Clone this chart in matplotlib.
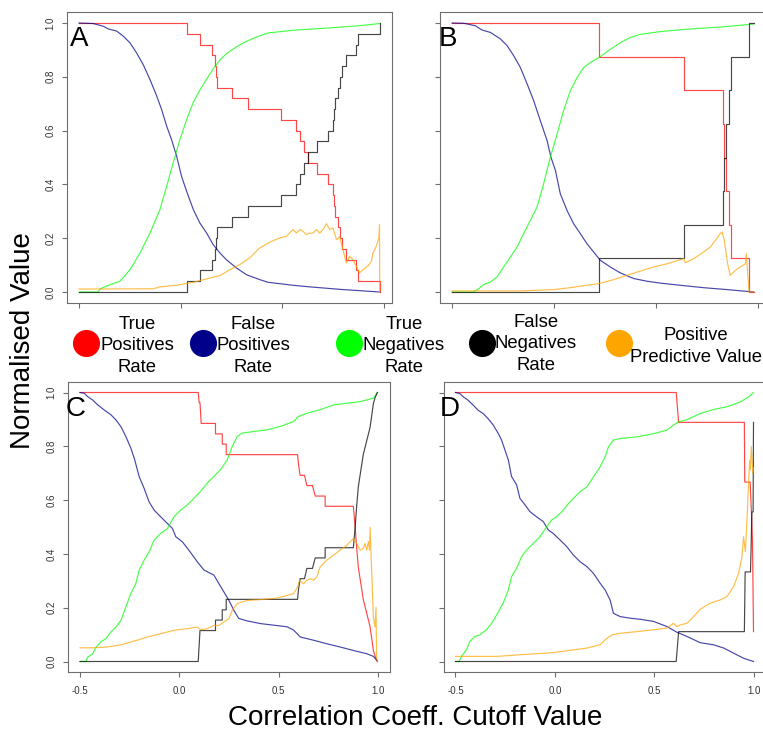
import matplotlib
matplotlib.use("Agg")
import matplotlib.pyplot as plt
from matplotlib.lines import Line2D

plt.rcParams['font.family'] = ['Liberation Sans', 'DejaVu Sans']

W, H = 763, 731

# ---------------- Panel A ----------------
# step curves: value holds from each cutoff until the next one
a_tpr_x = [-0.5, 0.032, 0.094, 0.152, 0.168, 0.173, 0.180, 0.250, 0.329, 0.491, 0.565, 0.585, 0.605,
           0.625, 0.672, 0.726, 0.747, 0.753, 0.757, 0.772, 0.782, 0.795, 0.815, 0.861, 0.874, 0.979]
a_tpr_y = [1.00, 0.96, 0.92, 0.88, 0.84, 0.80, 0.76, 0.72, 0.68, 0.64, 0.60, 0.56, 0.52,
           0.48, 0.44, 0.40, 0.36, 0.32, 0.28, 0.24, 0.20, 0.16, 0.12, 0.08, 0.04, 0.00]
a_fnr_y = [0.00, 0.04, 0.08, 0.12, 0.16, 0.20, 0.24, 0.28, 0.32, 0.36, 0.40, 0.44, 0.48,
           0.52, 0.56, 0.60, 0.64, 0.68, 0.72, 0.76, 0.80, 0.84, 0.88, 0.92, 0.96, 1.00]
a_fpr_x = [-0.5, -0.430, -0.381, -0.356, -0.315, -0.282, -0.249, -0.217, -0.184, -0.151, -0.118, -0.094,
           -0.069, -0.045, -0.020, 0.004, 0.029, 0.062, 0.094, 0.127, 0.160, 0.193, 0.225, 0.275, 0.324,
           0.389, 0.430, 0.487, 0.553, 0.635, 0.717, 0.798, 0.880, 0.979]
a_fpr_y = [1.0, 0.998, 0.988, 0.978, 0.970, 0.951, 0.926, 0.889, 0.845, 0.790, 0.729, 0.679,
           0.617, 0.567, 0.505, 0.431, 0.375, 0.307, 0.257, 0.220, 0.176, 0.145, 0.120, 0.089, 0.064,
           0.046, 0.036, 0.031, 0.025, 0.019, 0.014, 0.009, 0.005, 0.0]
a_tnr_x = [-0.5, -0.405, -0.397, -0.348, -0.299, -0.249, -0.200, -0.151, -0.102, -0.069, -0.037, -0.004,
           0.029, 0.062, 0.094, 0.127, 0.160, 0.193, 0.225, 0.275, 0.324, 0.389, 0.430, 0.553, 0.717,
           0.880, 0.979]
a_tnr_y = [0.0, 0.0, 0.011, 0.027, 0.040, 0.083, 0.145, 0.219, 0.306, 0.393, 0.480, 0.566,
           0.640, 0.705, 0.750, 0.790, 0.830, 0.862, 0.886, 0.912, 0.932, 0.953, 0.963, 0.973, 0.981,
           0.990, 0.998]
a_ppv_x = [-0.5, -0.135, -0.102, -0.020, 0.062, 0.144, 0.193, 0.242, 0.291, 0.340, 0.389, 0.438, 0.487,
           0.520, 0.553, 0.569, 0.586, 0.602, 0.618, 0.635, 0.651, 0.667, 0.684, 0.700, 0.717, 0.733,
           0.749, 0.766, 0.782, 0.798, 0.815, 0.831, 0.848, 0.864, 0.880, 0.897, 0.921, 0.938, 0.946,
           0.962, 0.975, 0.978, 0.979]
a_ppv_y = [0.011, 0.012, 0.019, 0.025, 0.036, 0.052, 0.061, 0.083, 0.102, 0.127, 0.164, 0.185, 0.201,
           0.207, 0.232, 0.219, 0.232, 0.226, 0.213, 0.219, 0.219, 0.232, 0.219, 0.232, 0.254, 0.232,
           0.238, 0.195, 0.205, 0.158, 0.108, 0.133, 0.120, 0.095, 0.071, 0.083, 0.096, 0.114, 0.145,
           0.170, 0.201, 0.250, 0.0]

# ---------------- Panel B ----------------
b_tpr_x = [-0.5, 0.219, 0.639, 0.826, 0.835, 0.845, 0.858, 0.866, 0.955, 0.979]
b_tpr_y = [1.0, 0.875, 0.75, 0.625, 0.5, 0.375, 0.25, 0.125, 0.0, 0.0]
b_fnr_y = [0.0, 0.125, 0.25, 0.375, 0.5, 0.625, 0.75, 0.875, 1.0, 1.0]
b_fpr_x = [-0.5, -0.443, -0.386, -0.353, -0.312, -0.263, -0.230, -0.198, -0.165, -0.132, -0.100,
           -0.067, -0.034, -0.015, 0.007, 0.031, 0.064, 0.096, 0.129, 0.162, 0.194, 0.227, 0.276,
           0.325, 0.391, 0.456, 0.521, 0.619, 0.734, 0.848, 0.979]
b_fpr_y = [1.0, 0.999, 0.990, 0.974, 0.965, 0.941, 0.916, 0.879, 0.835, 0.774, 0.712,
           0.637, 0.563, 0.501, 0.452, 0.365, 0.303, 0.254, 0.217, 0.179, 0.149, 0.118, 0.093,
           0.071, 0.050, 0.040, 0.033, 0.025, 0.016, 0.009, 0.0]
b_tnr_x = [-0.5, -0.394, -0.369, -0.345, -0.312, -0.279, -0.247, -0.214, -0.181, -0.149, -0.116,
           -0.083, -0.051, -0.018, 0.015, 0.047, 0.080, 0.113, 0.145, 0.178, 0.219, 0.276, 0.325,
           0.374, 0.423, 0.521, 0.652, 0.815, 0.979]
b_tnr_y = [0.0, 0.0, 0.012, 0.028, 0.037, 0.056, 0.093, 0.130, 0.167, 0.217, 0.266,
           0.316, 0.402, 0.501, 0.587, 0.674, 0.748, 0.797, 0.834, 0.853, 0.871, 0.902, 0.927,
           0.946, 0.958, 0.968, 0.977, 0.985, 0.996]
b_ppv_x = [-0.5, -0.165, -0.002, 0.080, 0.162, 0.219, 0.292, 0.358, 0.423, 0.489, 0.554, 0.636,
           0.644, 0.685, 0.734, 0.766, 0.791, 0.815, 0.824, 0.835, 0.851, 0.864, 0.889, 0.913,
           0.938, 0.943, 0.946, 0.956, 0.979]
b_ppv_y = [0.004, 0.004, 0.009, 0.016, 0.025, 0.031, 0.046, 0.062, 0.078, 0.093, 0.105, 0.124,
           0.109, 0.124, 0.149, 0.167, 0.192, 0.217, 0.223, 0.192, 0.105, 0.062, 0.080, 0.093,
           0.105, 0.142, 0.105, 0.0, 0.0]

# ---------------- Panel C ----------------
c_tpr_x = [-0.5, 0.095, 0.100, 0.104, 0.110, 0.182, 0.182, 0.216, 0.216, 0.236, 0.236, 0.595, 0.600,
           0.608, 0.630, 0.642, 0.670, 0.684, 0.734, 0.734, 0.876, 0.885, 0.893, 0.901, 0.926, 0.960,
           0.977, 0.985, 0.997]
c_tpr_y = [1.0, 1.0, 0.962, 0.962, 0.885, 0.885, 0.846, 0.846, 0.808, 0.808, 0.769, 0.769, 0.731,
           0.692, 0.692, 0.654, 0.654, 0.615, 0.615, 0.577, 0.577, 0.50, 0.42, 0.35, 0.23, 0.13,
           0.04, 0.02, 0.0]
c_fnr_x = [-0.5, 0.095, 0.104, 0.182, 0.182, 0.216, 0.216, 0.236, 0.236, 0.595, 0.600, 0.608, 0.630,
           0.642, 0.670, 0.684, 0.734, 0.734, 0.876, 0.885, 0.893, 0.901, 0.926, 0.960, 0.977, 0.985,
           0.997]
c_fnr_y = [0.0, 0.0, 0.115, 0.115, 0.154, 0.154, 0.192, 0.192, 0.231, 0.231, 0.269, 0.308, 0.308,
           0.346, 0.346, 0.385, 0.385, 0.423, 0.423, 0.50, 0.58, 0.65, 0.77, 0.87, 0.96, 0.98,
           1.0]
c_fpr_x = [-0.5, -0.478, -0.462, -0.436, -0.411, -0.378, -0.344, -0.319, -0.294, -0.269, -0.244,
           -0.227, -0.202, -0.177, -0.152, -0.127, -0.094, -0.060, -0.035, -0.018, 0.015, 0.048,
           0.090, 0.124, 0.174, 0.199, 0.224, 0.249, 0.274, 0.299, 0.341, 0.408, 0.475, 0.542,
           0.575, 0.609, 0.676, 0.742, 0.809, 0.876, 0.943, 0.977, 0.997]
c_fpr_y = [1.0, 0.997, 0.985, 0.972, 0.954, 0.935, 0.917, 0.898, 0.873, 0.836, 0.793,
           0.756, 0.687, 0.643, 0.593, 0.563, 0.538, 0.513, 0.495, 0.464, 0.445, 0.414,
           0.371, 0.340, 0.321, 0.290, 0.259, 0.228, 0.191, 0.160, 0.151, 0.141, 0.135, 0.129,
           0.117, 0.091, 0.079, 0.066, 0.054, 0.041, 0.029, 0.019, 0.001]
c_tnr_x = [-0.5, -0.470, -0.462, -0.436, -0.420, -0.395, -0.370, -0.344, -0.319, -0.294, -0.269,
           -0.244, -0.219, -0.202, -0.177, -0.152, -0.127, -0.094, -0.060, -0.027, 0.007, 0.040,
           0.074, 0.107, 0.140, 0.174, 0.207, 0.241, 0.266, 0.291, 0.316, 0.375, 0.441, 0.508,
           0.575, 0.600, 0.642, 0.709, 0.776, 0.843, 0.910, 0.977, 0.997]
c_tnr_y = [0.0, 0.0, 0.016, 0.029, 0.053, 0.073, 0.085, 0.110, 0.128, 0.153, 0.203,
           0.253, 0.290, 0.340, 0.377, 0.408, 0.451, 0.476, 0.494, 0.538, 0.563, 0.582,
           0.607, 0.632, 0.663, 0.688, 0.713, 0.749, 0.799, 0.836, 0.849, 0.855, 0.861, 0.874,
           0.892, 0.911, 0.923, 0.936, 0.954, 0.960, 0.966, 0.979, 1.0]
c_ppv_x = [-0.5, -0.428, -0.361, -0.294, -0.227, -0.161, -0.094, -0.027, 0.040, 0.090, 0.107,
           0.140, 0.174, 0.199, 0.224, 0.249, 0.266, 0.291, 0.341, 0.408, 0.492, 0.575, 0.595,
           0.605, 0.625, 0.642, 0.659, 0.676, 0.692, 0.709, 0.726, 0.742, 0.776, 0.809, 0.843,
           0.876, 0.893, 0.910, 0.926, 0.935, 0.943, 0.952, 0.957, 0.960, 0.968, 0.977, 0.985,
           0.990, 0.993, 0.997]
c_ppv_y = [0.051, 0.051, 0.054, 0.062, 0.076, 0.091, 0.103, 0.116, 0.122, 0.128, 0.118,
           0.122, 0.134, 0.134, 0.147, 0.159, 0.190, 0.215, 0.227, 0.230, 0.236, 0.252, 0.277,
           0.302, 0.289, 0.302, 0.308, 0.302, 0.314, 0.352, 0.364, 0.377, 0.395, 0.414, 0.432,
           0.457, 0.439, 0.414, 0.420, 0.439, 0.414, 0.446, 0.414, 0.499, 0.339, 0.165, 0.128,
           0.201, 0.016, 0.0]

# ---------------- Panel D ----------------
d_tpr_x = [-0.5, 0.611, 0.623, 0.954, 0.956, 0.983, 0.990, 0.995, 1.0]
d_tpr_y = [1.0, 1.0, 0.889, 0.889, 0.667, 0.667, 0.55, 0.444, 0.111]
d_fnr_x = [-0.5, 0.611, 0.623, 0.954, 0.958, 0.985, 0.992, 0.998, 1.0]
d_fnr_y = [0.0, 0.0, 0.111, 0.111, 0.333, 0.333, 0.556, 0.556, 0.889]
d_fpr_x = [-0.5, -0.478, -0.461, -0.436, -0.411, -0.386, -0.361, -0.336, -0.310, -0.285, -0.268,
           -0.251, -0.234, -0.218, -0.192, -0.176, -0.150, -0.125, -0.092, -0.058, -0.033, -0.008,
           0.026, 0.060, 0.093, 0.127, 0.161, 0.194, 0.228, 0.253, 0.278, 0.295, 0.329, 0.379,
           0.429, 0.497, 0.564, 0.614, 0.665, 0.732, 0.799, 0.850, 0.900, 0.950, 1.0]
d_fpr_y = [1.0, 0.996, 0.984, 0.971, 0.953, 0.934, 0.922, 0.903, 0.879, 0.848, 0.823,
           0.786, 0.749, 0.688, 0.656, 0.607, 0.582, 0.557, 0.538, 0.520, 0.489, 0.476,
           0.452, 0.427, 0.396, 0.371, 0.353, 0.328, 0.291, 0.266, 0.229, 0.179, 0.167, 0.161,
           0.157, 0.149, 0.130, 0.109, 0.093, 0.070, 0.062, 0.050, 0.031, 0.012, 0.0]
d_tnr_x = [-0.5, -0.482, -0.470, -0.445, -0.428, -0.403, -0.377, -0.344, -0.318, -0.293, -0.260,
           -0.234, -0.218, -0.192, -0.167, -0.142, -0.108, -0.075, -0.041, -0.016, 0.009, 0.043,
           0.068, 0.093, 0.127, 0.161, 0.194, 0.228, 0.253, 0.270, 0.295, 0.329, 0.413, 0.497,
           0.564, 0.597, 0.623, 0.665, 0.732, 0.799, 0.866, 0.934, 0.976, 1.0]
d_tnr_y = [0.0, 0.0, 0.019, 0.043, 0.074, 0.093, 0.099, 0.118, 0.142, 0.173, 0.217,
           0.266, 0.315, 0.347, 0.390, 0.415, 0.439, 0.464, 0.501, 0.526, 0.538, 0.563,
           0.587, 0.606, 0.631, 0.649, 0.686, 0.724, 0.761, 0.798, 0.823, 0.829, 0.835, 0.847,
           0.860, 0.879, 0.891, 0.899, 0.922, 0.937, 0.947, 0.965, 0.984, 1.0]
d_ppv_x = [-0.5, -0.293, -0.176, -0.008, 0.161, 0.228, 0.253, 0.287, 0.329, 0.413, 0.497, 0.564,
           0.597, 0.614, 0.631, 0.665, 0.698, 0.732, 0.782, 0.833, 0.866, 0.900, 0.925, 0.942,
           0.950, 0.959, 0.967, 0.972, 0.981, 0.984, 0.989, 0.996, 1.0]
d_ppv_y = [0.019, 0.019, 0.025, 0.033, 0.050, 0.062, 0.081, 0.099, 0.105, 0.111, 0.118, 0.124,
           0.142, 0.130, 0.136, 0.142, 0.167, 0.194, 0.217, 0.229, 0.241, 0.279, 0.328, 0.390,
           0.464, 0.408, 0.526, 0.612, 0.749, 0.712, 0.799, 0.700, 0.720]

# legend entries
legend_labels = ["True\nPositives\nRate", "False\nPositives\nRate", "True\nNegatives\nRate",
                 "False\nNegatives\nRate", "Positive\nPredictive Value"]
legend_colors = ["#ff0000", "#00008b", "#00ff00", "#000000", "#ffa500"]

x_ticks = [-0.5, 0.0, 0.5, 1.0]
x_tick_labels = ["-0.5", "0.0", "0.5", "1.0"]
y_ticks = [0.0, 0.2, 0.4, 0.6, 0.8, 1.0]
y_tick_labels = ["0.0", "0.2", "0.4", "0.6", "0.8", "1.0"]

# ---------------- drawing ----------------
LINE_ALPHA = 0.72
LW = 0.85
YLIM = (-0.04, 1.04)

fig = plt.figure(figsize=(W / 100, H / 100), dpi=100)


def make_axes(px_lo, px_hi, py_one, py_zero, xlim):
    """Place an axes so that x=-0.5/1.0 and y=1/0 land on the given pixel positions."""
    sx = (px_hi - px_lo) / 1.5
    left = px_lo - (-0.5 - xlim[0]) * sx
    right = px_hi + (xlim[1] - 1.0) * sx
    sy = py_zero - py_one
    top = py_one - (YLIM[1] - 1.0) * sy
    bottom = py_zero + (0.0 - YLIM[0]) * sy
    ax = fig.add_axes([left / W, 1 - bottom / H, (right - left) / W, (bottom - top) / H])
    ax.set_xlim(xlim)
    ax.set_ylim(YLIM)
    for sp in ax.spines.values():
        sp.set_color("#6e6e6e")
        sp.set_linewidth(0.8)
    ax.set_xticks(x_ticks)
    ax.set_xticklabels(x_tick_labels)
    ax.set_yticks(y_ticks)
    ax.set_yticklabels(y_tick_labels, rotation=90, va="center")
    ax.tick_params(direction="out", length=3.8, width=0.8, color="#6e6e6e",
                   labelsize=7, labelcolor="#333333")
    ax.tick_params(axis="x", pad=6)
    ax.tick_params(axis="y", pad=4.5)
    return ax


ax_a = make_axes(79, 384, 23, 292, (-0.559, 1.039))
ax_b = make_axes(452, 758, 23, 292, (-0.559, 1.039))
ax_c = make_axes(80, 378, 392.5, 661.5, (-0.56, 1.06))
ax_d = make_axes(455.5, 753.5, 392.5, 661.5, (-0.56, 1.06))

ax_a.tick_params(labelbottom=False)
ax_b.tick_params(labelbottom=False, labelleft=False)
ax_d.tick_params(labelleft=False)

RED, BLUE, GREEN, BLACK, ORANGE = legend_colors


def draw_lines(ax, tpr, fpr, tnr, fnr, ppv, steps):
    ds = "steps-post" if steps else "default"
    ax.plot(*tpr, color=RED, lw=LW, alpha=LINE_ALPHA, drawstyle=ds)
    ax.plot(*fpr, color=BLUE, lw=LW, alpha=LINE_ALPHA)
    ax.plot(*tnr, color=GREEN, lw=LW, alpha=LINE_ALPHA)
    ax.plot(*fnr, color=BLACK, lw=LW, alpha=LINE_ALPHA, drawstyle=ds)
    ax.plot(*ppv, color=ORANGE, lw=LW, alpha=LINE_ALPHA)


draw_lines(ax_a, (a_tpr_x, a_tpr_y), (a_fpr_x, a_fpr_y), (a_tnr_x, a_tnr_y),
           (a_tpr_x, a_fnr_y), (a_ppv_x, a_ppv_y), steps=True)
draw_lines(ax_b, (b_tpr_x, b_tpr_y), (b_fpr_x, b_fpr_y), (b_tnr_x, b_tnr_y),
           (b_tpr_x, b_fnr_y), (b_ppv_x, b_ppv_y), steps=True)
draw_lines(ax_c, (c_tpr_x, c_tpr_y), (c_fpr_x, c_fpr_y), (c_tnr_x, c_tnr_y),
           (c_fnr_x, c_fnr_y), (c_ppv_x, c_ppv_y), steps=False)
draw_lines(ax_d, (d_tpr_x, d_tpr_y), (d_fpr_x, d_fpr_y), (d_tnr_x, d_tnr_y),
           (d_fnr_x, d_fnr_y), (d_ppv_x, d_ppv_y), steps=False)

# panel letters
for letter, (px, py) in zip("ABCD", [(70, 46.5), (439, 46), (65.5, 416.5), (440, 416)]):
    fig.text(px / W, 1 - py / H, letter, fontsize=20, ha="left", va="baseline", color="black")

# legend row between the two panel rows
circle_x = [85.6, 202.6, 349, 482, 619]
text_x = [137, 253, 404, 536, 695.6]
text_y = [346, 346, 346, 344, 346.5]
for cx, tx, ty, lab, col in zip(circle_x, text_x, text_y, legend_labels, legend_colors):
    fig.add_artist(Line2D([cx / W], [1 - 343 / H], marker="o", ms=18.5, color=col,
                          linestyle="none", transform=fig.transFigure))
    fig.text(tx / W, 1 - ty / H, lab, fontsize=13.3, ha="center", va="center",
             multialignment="center", linespacing=1.35, color="black")

# shared axis titles
fig.text(415 / W, 1 - 718 / H, "Correlation Coeff. Cutoff Value", fontsize=20,
         ha="center", va="center")
fig.text(23 / W, 1 - 341 / H, "Normalised Value", fontsize=20, rotation=90,
         ha="center", va="center")

fig.savefig("out.png", dpi=100)
